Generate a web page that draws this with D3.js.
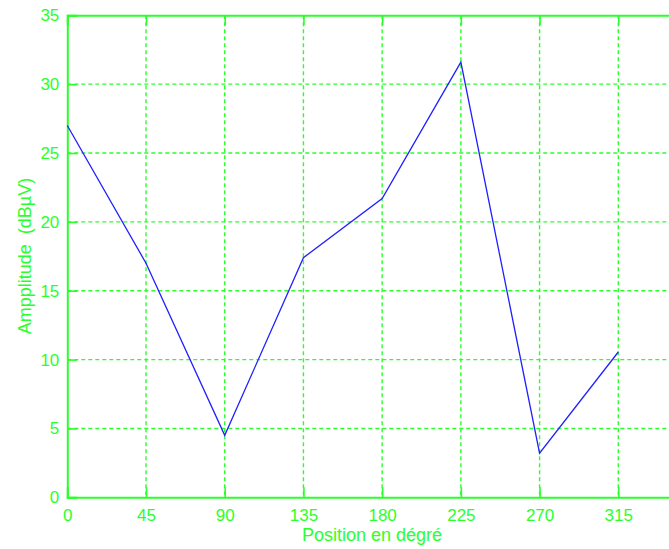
<!DOCTYPE html>
<html><head><meta charset="utf-8">
<script src="https://cdn.jsdelivr.net/npm/d3@7"></script>
<style>
html,body{margin:0;padding:0;background:#fff;overflow:hidden}
svg{display:block}
text{font-family:"Liberation Sans",Arial,sans-serif;fill:#2bff2b}
</style></head>
<body>
<svg id="chart" width="669" height="549"></svg>
<script>
const positions = [0, 45, 90, 135, 180, 225, 270, 315];
const amplitudes = [27.0, 17.0, 4.5, 17.4, 21.7, 31.6, 3.2, 10.55];
const xTicks = [0, 45, 90, 135, 180, 225, 270, 315, 360];
const yTicks = [0, 5, 10, 15, 20, 25, 30, 35];
const xLabel = "Position en dégré";
const yLabel = "Ampplitude  (dBµV)";

(function () {
const green = "#2bff2b";
const svg = d3.select("#chart");
const pL = 67.3, pR = 697, pT = 15.3, pB = 497.3;
const x = d3.scaleLinear().domain([0, 360]).range([pL, pR]);
const y = d3.scaleLinear().domain([0, 35]).range([pB, pT]);

// grid
const grid = svg.append("g").attr("stroke", green).attr("stroke-width", 1.4).attr("stroke-dasharray", "4,3");
grid.selectAll(".vg").data(xTicks.filter(d => d > 0 && d < 360)).join("line")
  .attr("x1", d => x(d)).attr("x2", d => x(d)).attr("y1", pT).attr("y2", pB);
grid.selectAll(".hg").data(yTicks.filter(d => d > 0 && d < 35)).join("line")
  .attr("y1", d => y(d)).attr("y2", d => y(d)).attr("x1", pL).attr("x2", pR);

// axes (the 360 tick falls outside the visible window)
const xVisible = xTicks.filter(d => x(d) < 669);
const xAxis = d3.axisBottom(x).tickValues(xVisible).tickSize(-10).tickPadding(12).tickFormat(d3.format("d"));
const yAxis = d3.axisLeft(y).tickValues(yTicks).tickSize(-10).tickPadding(8).tickFormat(d3.format("d"));
const xTop = d3.axisTop(x).tickValues(xVisible).tickSize(-10).tickFormat("");

function style(g) {
  g.select(".domain").attr("stroke", green).attr("stroke-width", 2);
  g.selectAll(".tick line").attr("stroke", green).attr("stroke-width", 1.6);
  g.selectAll(".tick text").attr("fill", green).style("font-size", "17px");
  g.attr("font-family", null).attr("font-size", null);
}
svg.append("g").attr("transform", `translate(0,${pB})`).call(xAxis).call(style);
svg.append("g").attr("transform", `translate(${pL},0)`).call(yAxis).call(style);
svg.append("g").attr("transform", `translate(0,${pT})`).call(xTop).call(style);

// line
const line = d3.line().x((d, i) => x(positions[i])).y(d => y(d));
svg.append("path").datum(amplitudes).attr("d", line)
  .attr("fill", "none").attr("stroke", "#2020ff").attr("stroke-width", 1.3);

// labels
svg.append("text").attr("x", 372).attr("y", 541).attr("text-anchor", "middle")
  .style("font-size", "18px").text(xLabel);
svg.append("text").attr("transform", `translate(31,256) rotate(-90)`).attr("text-anchor", "middle")
  .attr("xml:space", "preserve").style("white-space", "pre")
  .style("font-size", "18px").text(yLabel);
})();
</script>
</body></html>
